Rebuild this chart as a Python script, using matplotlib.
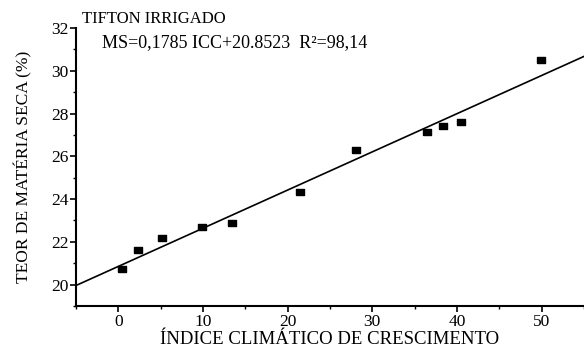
import matplotlib
matplotlib.use("Agg")
import matplotlib.pyplot as plt
import numpy as np
from matplotlib.ticker import MultipleLocator

# dados
icc = [0.5, 2.35, 5.2, 9.9, 13.4, 21.5, 28.1, 36.5, 38.4, 40.5, 49.9]
ms = [20.72, 21.61, 22.2, 22.7, 22.9, 24.32, 26.31, 27.12, 27.42, 27.59, 30.5]
slope, intercept = 0.1785, 20.8523

plt.rcParams["font.family"] = ["Liberation Serif", "DejaVu Serif"]

fig = plt.figure(figsize=(5.84, 3.49), dpi=100)
ax = fig.add_axes([0.130, 0.123, 0.870, 0.797])

xl = np.array([-5, 55])
ax.plot(xl, slope * xl + intercept, color="black", lw=1.2)
# quadrado um pouco achatado, como no original
rect = [(-1, -0.75), (1, -0.75), (1, 0.75), (-1, 0.75), (-1, -0.75)]
ax.plot(icc, ms, ls="none", marker=rect, color="black", ms=6)

ax.set_xlim(-5, 55)
ax.set_ylim(19, 32)
ax.xaxis.set_major_locator(MultipleLocator(10))
ax.xaxis.set_minor_locator(MultipleLocator(5))
ax.yaxis.set_major_locator(MultipleLocator(2))
ax.yaxis.set_minor_locator(MultipleLocator(1))
ax.tick_params(which="major", direction="out", length=4, width=1.2,
               labelsize=12.5, pad=1.5)
ax.tick_params(which="minor", direction="out", length=2.5, width=1.0)

for s in ("top", "right"):
    ax.spines[s].set_visible(False)
for s in ("left", "bottom"):
    ax.spines[s].set_linewidth(1.5)

ax.set_xlabel("ÍNDICE CLIMÁTICO DE CRESCIMENTO", fontsize=13.5, labelpad=1)
ax.set_ylabel("TEOR DE MATÉRIA SECA (%)", fontsize=12.5, labelpad=13)

ax.text(-4.3, 32.05, "TIFTON IRRIGADO", fontsize=12, va="bottom")
ax.text(-1.9, 31.3, "MS=0,1785 ICC+20.8523  R²=98,14", fontsize=13, va="center")

fig.savefig("out.png", dpi=100)
